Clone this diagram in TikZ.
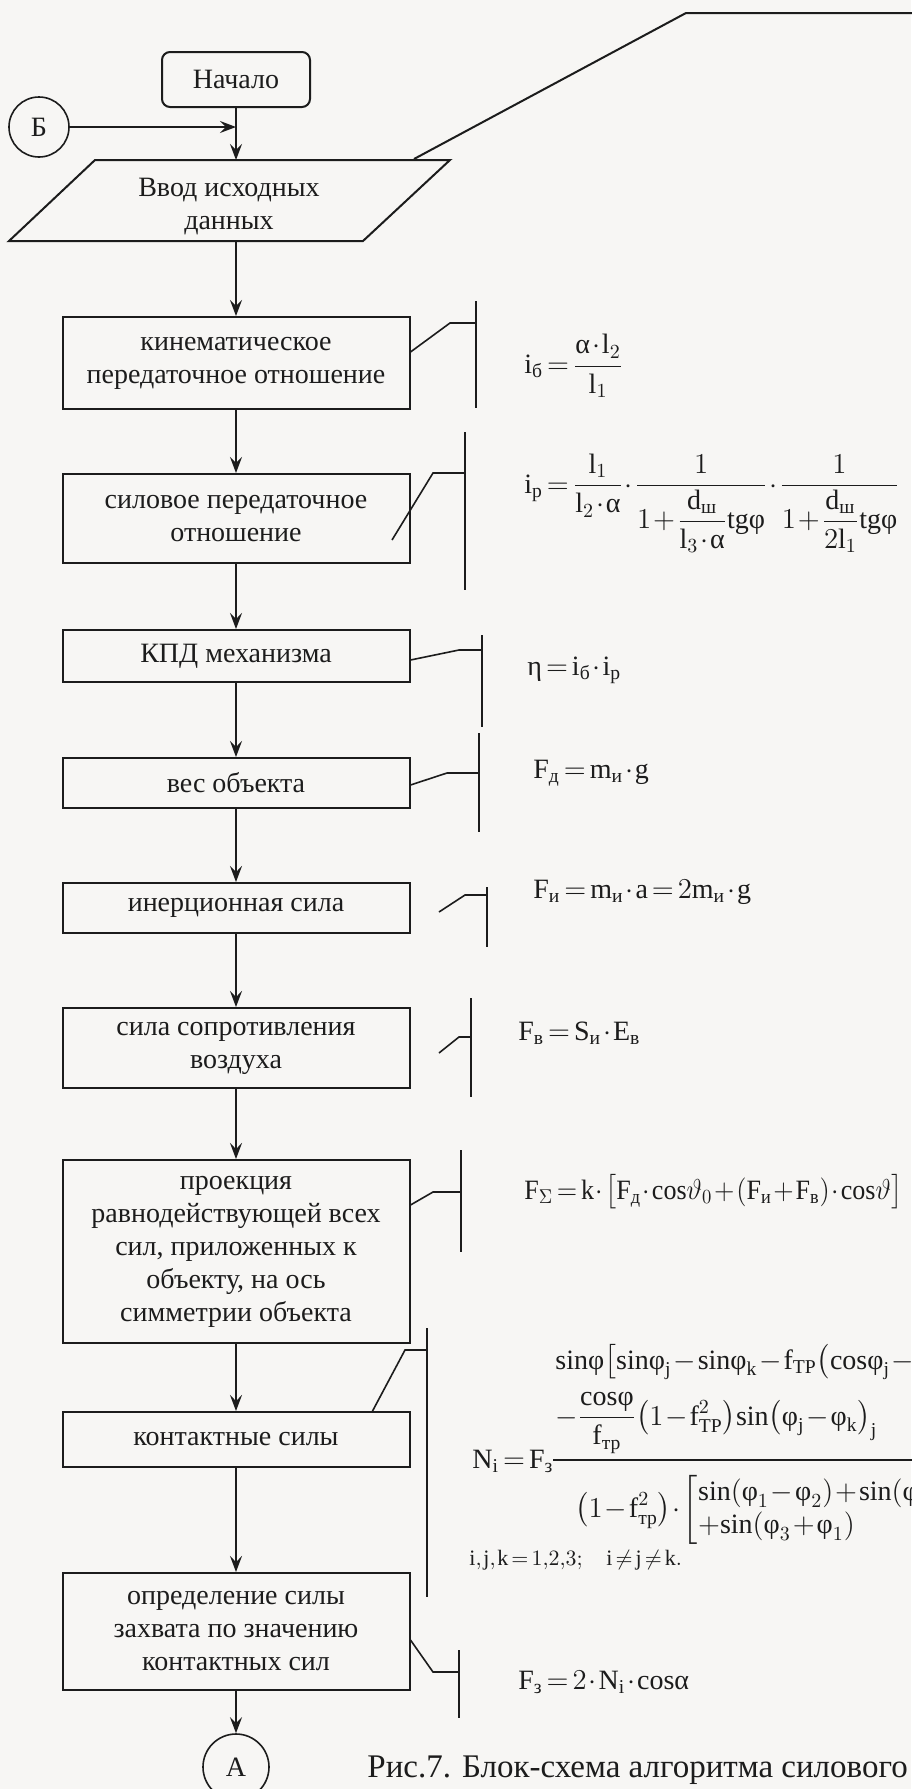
\documentclass[tikz,border=0pt]{standalone}
\usepackage{amsmath}
\usepackage{graphicx}
\usepackage{fontspec}
\setmainfont{Liberation Serif}
\usetikzlibrary{arrows.meta,shapes.geometric}
\newcommand\T[1]{\text{#1}}
\definecolor{paper}{RGB}{247,246,244}
\definecolor{ink}{RGB}{28,28,28}
\medmuskip=1.2mu plus 1mu minus 1mu
\thickmuskip=2.5mu plus 1mu
\thinmuskip=1.5mu
\begin{document}
\begin{tikzpicture}[x=0.5pt,y=-0.5pt,
  every node/.style={font=\fontsize{14}{16.5}\selectfont, text=ink, inner sep=0pt},
  box/.style={draw=ink, line width=1pt, rectangle, minimum width=173.5pt, align=center},
  conn/.style={circle, draw=ink, line width=0.8pt},
  arr/.style={draw=ink, line width=0.8pt, -{Stealth[length=8pt,width=6pt,inset=3pt]}},
  lnk/.style={draw=ink, line width=0.8pt},
  frm/.style={anchor=west},
  fbase/.style={anchor=base west},
]
\fill[paper] (0,0) rectangle (911,1789);
\useasboundingbox (0,0) rectangle (911,1789);

% --- start, connector B, input ---
\node[box, rounded corners=4pt, minimum width=74pt, minimum height=27.5pt] (start) at (236,79.5) {Начало};
\node[conn, minimum size=30pt] (B) at (39,127) {Б};
\coordinate (inTL) at (95,160);
\coordinate (inTR) at (450,160);
\coordinate (inBR) at (363,241);
\coordinate (inBL) at (9,241);
\draw[line width=1pt, draw=ink] (inTL) -- (inTR) -- (inBR) -- (inBL) -- cycle;
\node[align=center] (input) at (229,207) {Ввод исходных\\данных};
\coordinate (inTop) at (236,160);
\coordinate (inBot) at (236,241);
\coordinate (joinB) at (236,127);
\draw[arr] (start) -- (inTop);
\draw[arr] (B) -- (joinB);
\coordinate (lnA) at (414,159);
\coordinate (lnB) at (686,13);
\coordinate (lnC) at (915,13);
\draw[lnk, line width=1pt] (lnA) -- (lnB) -- (lnC);

% --- process boxes ---
\node[box, minimum height=46pt] (kin) at (236,363) {кинематическое\\передаточное отношение};
\node[box, minimum height=44.5pt] (sil) at (236,518.5) {силовое передаточное\\отношение};
\node[box, minimum height=26pt] (kpd) at (236,656) {КПД механизма};
\node[box, minimum height=25pt] (ves) at (236,783) {вес объекта};
\node[box, minimum height=25pt] (iner) at (236,908) {инерционная сила};
\node[box, minimum height=40pt] (sopr) at (236,1048) {сила сопротивления\\воздуха};
\node[box, minimum height=91.5pt] (proj) at (236,1251.5) {проекция\\равнодействующей всех\\сил, приложенных к\\объекту, на ось\\симметрии объекта};
\node[box, minimum height=27.5pt] (kont) at (236,1439.5) {контактные силы};
\node[box, minimum height=58.5pt] (opr) at (236,1631.5) {определение силы\\захвата по значению\\контактных сил};
\node[conn, minimum size=33pt] (A) at (236,1767) {А};

\draw[arr] (inBot) -- (kin);
\draw[arr] (kin) -- (sil);
\draw[arr] (sil) -- (kpd);
\draw[arr] (kpd) -- (ves);
\draw[arr] (ves) -- (iner);
\draw[arr] (iner) -- (sopr);
\draw[arr] (sopr) -- (proj);
\draw[arr] (proj) -- (kont);
\draw[arr] (kont) -- (opr);
\draw[arr] (opr) -- (A);

% --- comment brackets ---
\draw[lnk] (kin.east |- 0,352) -- (450,323) -- (476,323);
\draw[lnk] (476,301) -- (476,408);
\draw[lnk] (392,540) -- (433,473) -- (465,473);
\draw[lnk] (465,432) -- (465,590);
\draw[lnk] (kpd.east |- 0,660) -- (459,650) -- (482,650);
\draw[lnk] (482,635) -- (482,727);
\draw[lnk] (ves.east |- 0,785) -- (447,773) -- (479,773);
\draw[lnk] (479,733) -- (479,832);
\draw[lnk] (439,912) -- (465,895) -- (487,895);
\draw[lnk] (487,887) -- (487,947);
\draw[lnk] (439,1053) -- (459,1037) -- (471,1037);
\draw[lnk] (471,998) -- (471,1097);
\draw[lnk] (proj.east |- 0,1205) -- (433,1192) -- (461,1192);
\draw[lnk] (461,1150) -- (461,1252);
\draw[lnk] (372,1412) -- (405,1350) -- (427,1350);
\draw[lnk] (427,1328) -- (427,1597);
\draw[lnk] (opr.east |- 0,1640) -- (433,1672) -- (459,1672);
\draw[lnk] (459,1650) -- (459,1718);

% --- formulas ---
\node[frm] (f1) at (524,366) {$\T{i}_{\T{б}}=\dfrac{\T{α}\cdot\T{l}_2}{\T{l}_1}$};
\node[fbase] (f2) at (524,493) {$\T{i}_{\T{р}}=\dfrac{\T{l}_1}{\T{l}_2\cdot\T{α}}\cdot\dfrac{1}{1+\dfrac{\T{d}_{\T{ш}}}{\T{l}_3\cdot\T{α}}\T{tgφ}}\cdot\dfrac{1}{1+\dfrac{\T{d}_{\T{ш}}}{2\T{l}_1}\T{tgφ}}$};
\node[frm] (f3) at (527,670) {$\T{η}=\T{i}_{\T{б}}\cdot\T{i}_{\T{р}}$};
\node[frm] (f4) at (533,773) {$\T{F}_{\T{д}}=\T{m}_{\T{и}}\cdot\T{g}$};
\node[frm] (f5) at (533,892) {$\T{F}_{\T{и}}=\T{m}_{\T{и}}\cdot\T{a}=2\T{m}_{\T{и}}\cdot\T{g}$};
\node[frm] (f6) at (518,1033) {$\T{F}_{\T{в}}=\T{S}_{\T{и}}\cdot\T{E}_{\T{в}}$};
\node[frm] (f7) at (524,1192) {\scalebox{0.93}[1]{$\T{F}_{\Sigma}=\T{k}\cdot\bigl[\T{F}_{\T{д}}\cdot\T{cos}\vartheta_0+(\T{F}_{\T{и}}+\T{F}_{\T{в}})\cdot\T{cos}\vartheta\bigr]$}};
\node[fbase] (fN) at (472,1468) {$\T{N}_{\T{i}}=\T{F}_{\T{з}}$};
\coordinate (barL) at (553,1460);
\coordinate (barR) at (915,1460);
\draw[lnk, line width=0.6pt] (barL) -- (barR);
\node[fbase] (num1) at (555,1369) {$\T{sinφ}\bigl[\T{sinφ}_{\T{j}}-\T{sinφ}_{\T{k}}-\T{f}_{\T{ТР}}\bigl(\T{cosφ}_{\T{j}}-\T{cosφ}_{\T{k}}\bigr)\bigr]-$};
\node[fbase] (num2) at (555,1425) {$-\dfrac{\T{cosφ}}{\T{f}_{\T{тр}}}\bigl(1-\T{f}^2_{\T{ТР}}\bigr)\T{sin}\bigl(\T{φ}_{\T{j}}-\T{φ}_{\T{k}}\bigr)_{\T{j}}$};
\node[frm] (den) at (575,1510) {$\bigl(1-\T{f}^2_{\T{тр}}\bigr)\cdot\left[\begin{array}{@{}l@{}}\T{sin}(\T{φ}_1-\T{φ}_2)+\T{sin}(\T{φ}_2-\T{φ}_3)+\\+\T{sin}(\T{φ}_3+\T{φ}_1)\end{array}\right.$};
\node[frm, font=\fontsize{11}{13}\selectfont] (ijk) at (469,1560) {$\T{i},\T{j},\T{k}=1{,}2{,}3;\quad \T{i}\neq\T{j}\neq\T{k}.$};
\node[frm] (f9) at (518,1682) {$\T{F}_{\T{з}}=2\cdot\T{N}_{\T{i}}\cdot\T{cosα}$};
\node[frm, font=\fontsize{16.5}{19}\selectfont] (cap) at (367,1770) {Рис.7. Блок-схема алгоритма силового};
\end{tikzpicture}
\end{document}
